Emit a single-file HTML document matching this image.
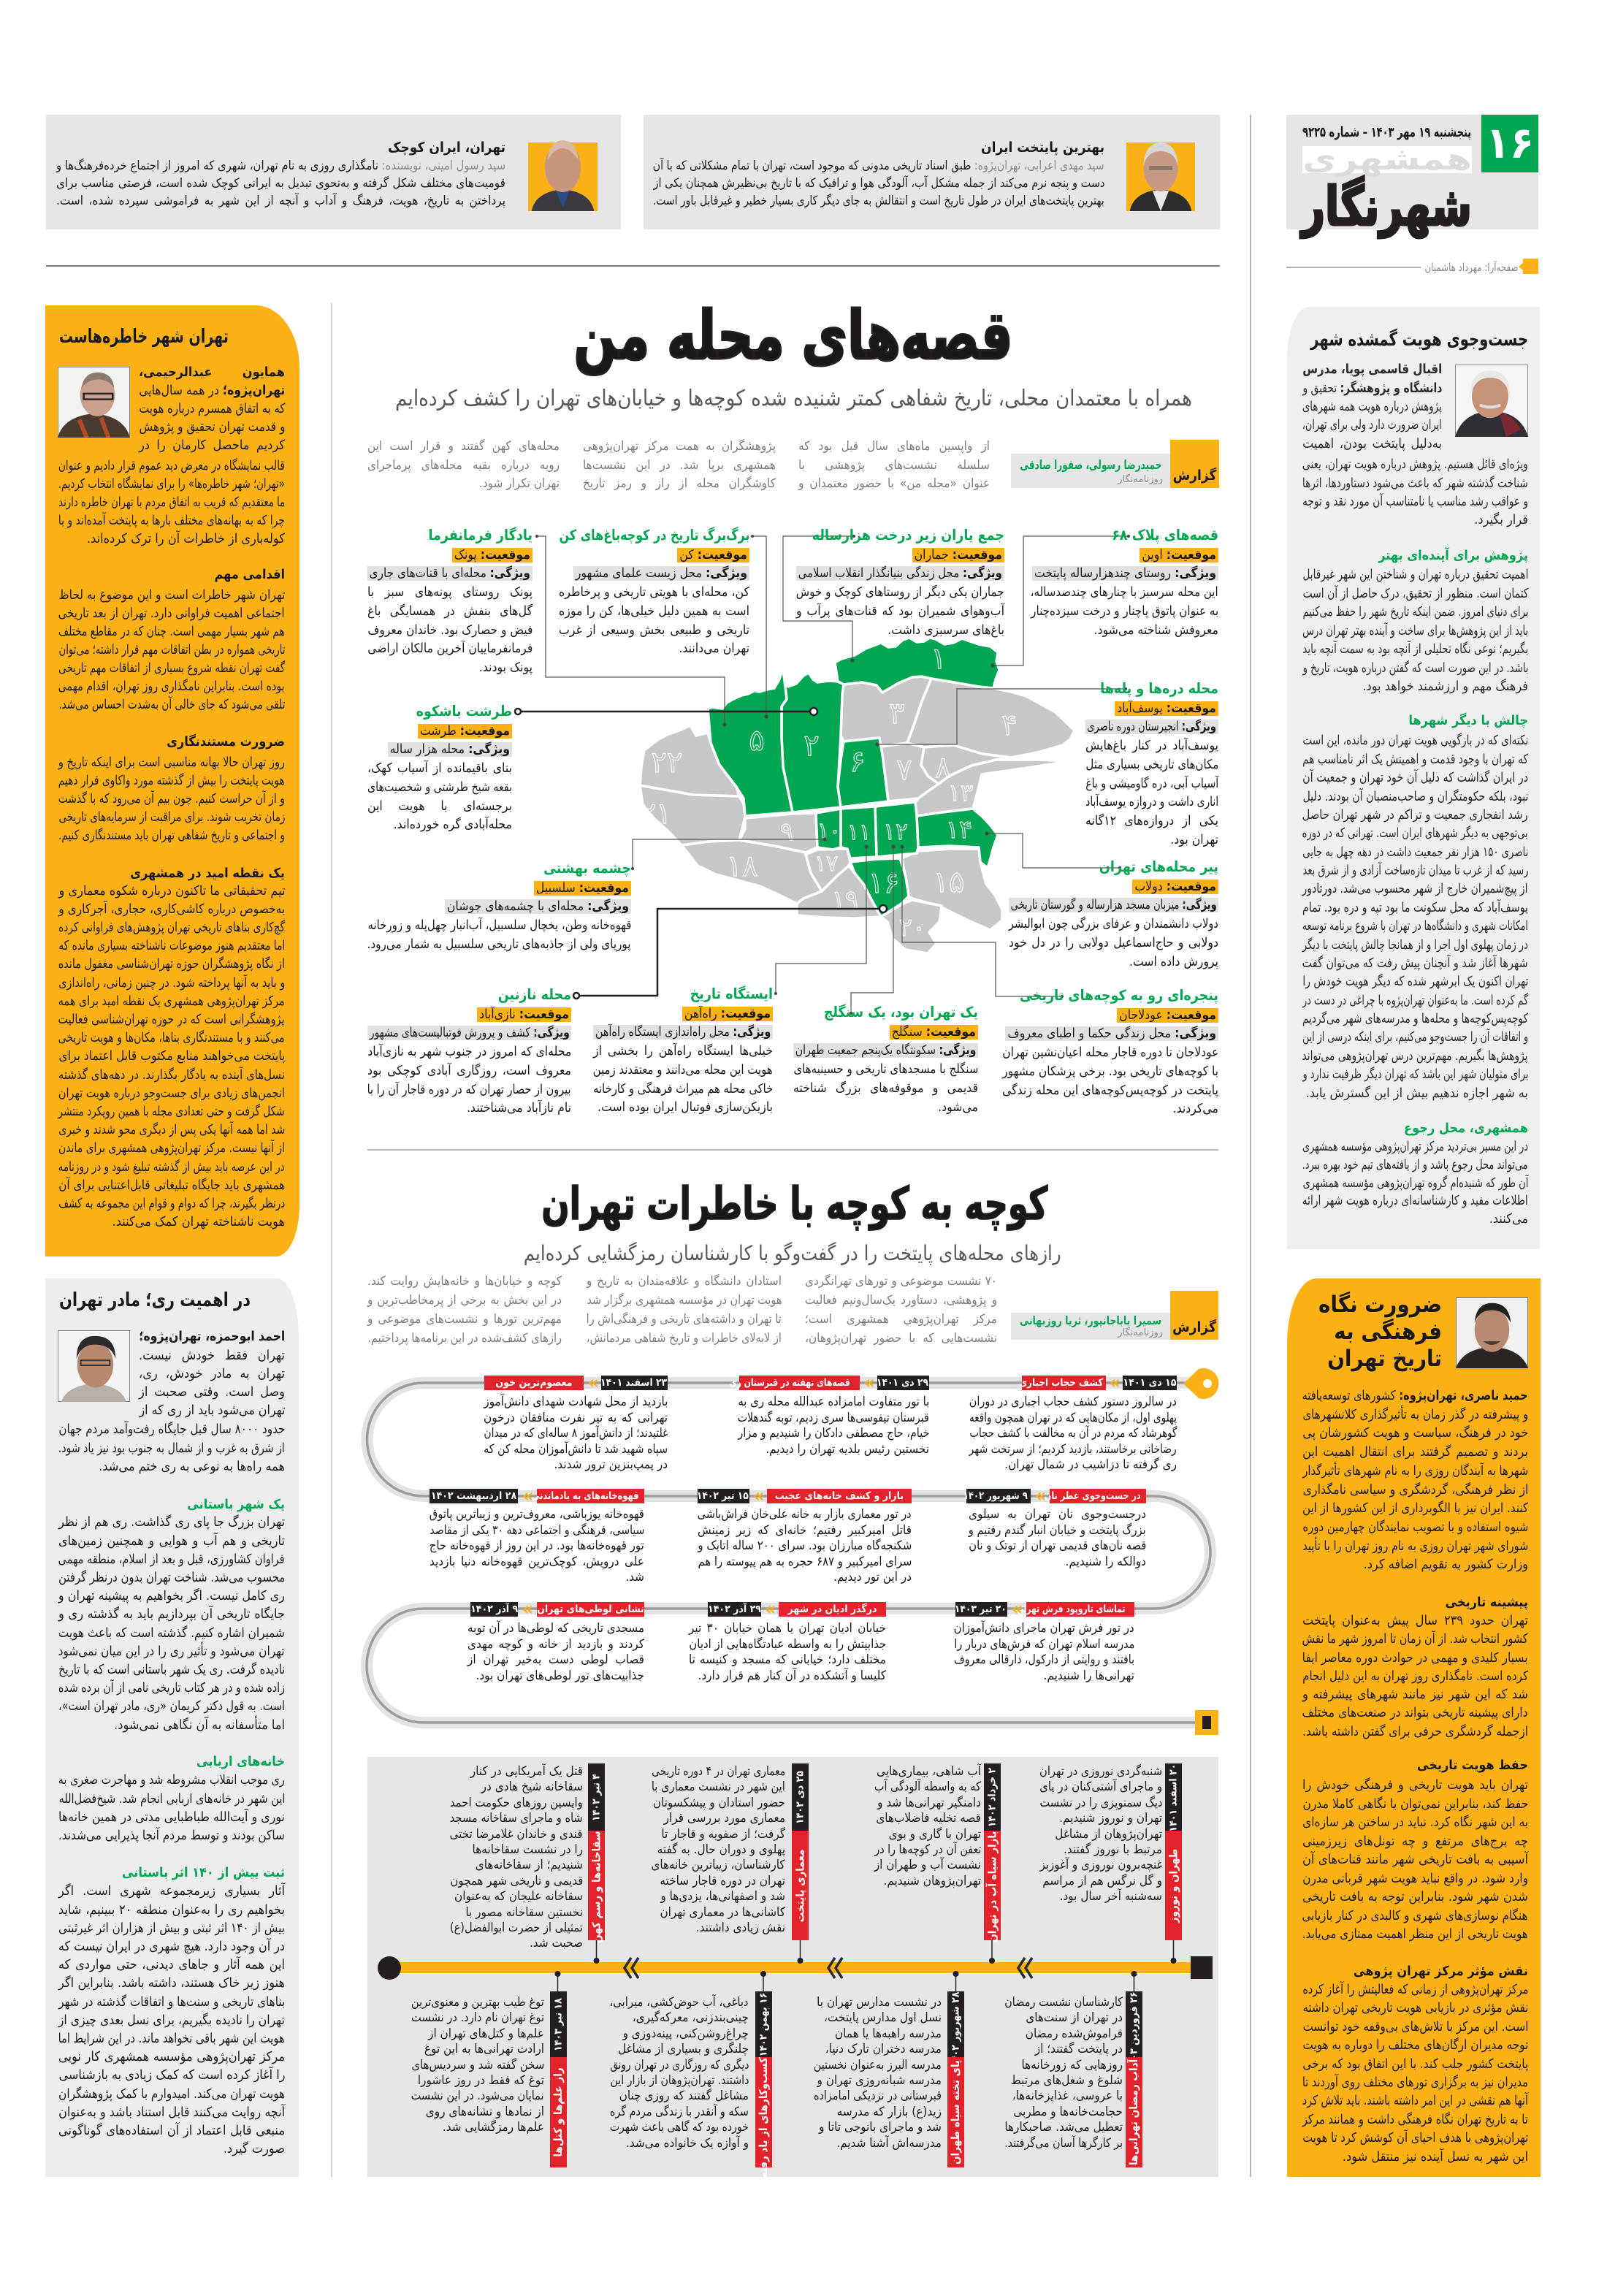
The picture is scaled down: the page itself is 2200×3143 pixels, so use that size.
<!DOCTYPE html>
<html lang="fa"><head><meta charset="utf-8">
<style>
*{box-sizing:border-box}
html,body{margin:0;padding:0}
body{width:2200px;height:3143px;position:relative;background:#fff;overflow:hidden;font-family:"DejaVu Sans Condensed","DejaVu Sans",sans-serif;color:#1a1718}
.a{position:absolute}
.b{position:absolute;direction:rtl}
.b p{margin:0;white-space:nowrap;text-align:right}
.w{display:inline-block;white-space:nowrap;transform-origin:100% 50%;vertical-align:top}
.fx{position:absolute;direction:rtl;white-space:nowrap;text-align:right}
.sd{white-space:nowrap;text-align:center;direction:rtl}
.sd .w{transform-origin:50% 50%}
.g{color:#00a651;font-weight:bold}
.gt{color:#00a651;font-weight:bold;font-size:19.5px}
.or{background:#fcb116;padding:0 3px}
.gy{background:#e1e1e2;padding:0 3px}
.t{font-weight:bold}
.tg{position:absolute;height:20px;line-height:20px;color:#fff;font-weight:bold;font-size:14px}
.rd{background:#e3232b}
.bk{background:#231f20}
.ch{position:absolute;color:#fcb116;font-weight:bold;font-size:26px;line-height:20px;height:20px;text-align:center;direction:ltr}
.vt{position:absolute;width:23px}
.vi{position:absolute;height:23px;line-height:23px;transform:rotate(-90deg);color:#fff;font-weight:bold;font-size:14px}
.m{font-size:17.5px;line-height:25.7px}
.tl{font-size:17px;line-height:21.5px}
.bt{font-size:17px;line-height:21.4px}
.gr{color:#7a7c7f}
.hv{-webkit-text-stroke:3px #231f20}
.hv2{-webkit-text-stroke:1.6px #231f20}
</style></head><body>

<svg class="a" style="left:0;top:0" width="2200" height="3143" viewBox="0 0 2200 3143">
<line x1="1712" y1="157" x2="1712" y2="2980" stroke="#b8b8b8" stroke-width="2"/>
<line x1="454" y1="415" x2="454" y2="2980" stroke="#c4c4c4" stroke-width="1.5"/>
<line x1="63" y1="364" x2="1670" y2="364" stroke="#7a7a7a" stroke-width="2"/>
<line x1="1761" y1="366" x2="1945" y2="366" stroke="#9a9a9a" stroke-width="1.5"/>
<rect x="2085" y="354" width="21" height="21" fill="#fcb116"/>
<polygon points="2079,365 2086,359 2086,371" fill="#fcb116"/>
<line x1="503" y1="1574" x2="1668" y2="1574" stroke="#a0a0a0" stroke-width="1.5"/>

<g stroke="#fff" stroke-width="3.5" stroke-linejoin="round">
<g fill="#c7c8ca">
<polygon points="1155,937 1180,934 1200,938 1208,948 1230,935 1249,927 1262,926 1275,929 1262,960 1252,990 1242,1017 1206,1022 1204,1010 1155,1015 1151,1007 1153,950"/>
<polygon points="1275,929 1300,933 1340,940 1360,942 1384,947 1405,953 1423,963 1445,975 1471,1000 1465,1012 1455,1020 1420,1030 1384,1037 1345,1032 1305,1020 1265,1023 1242,1017 1252,990 1262,960"/>
<polygon points="1206,1022 1242,1017 1265,1023 1261,1047 1270,1062 1285,1073 1268,1085 1257,1093 1216,1097 1212,1065 1208,1033"/>
<polygon points="1265,1023 1305,1020 1345,1032 1384,1037 1364,1040 1330,1048 1300,1062 1285,1073 1270,1062 1261,1047"/>
<polygon points="1285,1073 1300,1062 1330,1048 1364,1040 1420,1040 1465,1042 1400,1052 1344,1060 1338,1085 1332,1107 1290,1112 1255,1117 1253,1098 1257,1093 1268,1085"/>
<polygon points="1020,1120 1085,1114 1117,1113 1119,1160 1103,1167 1060,1158 1012,1150 1020,1135"/>
<polygon points="1103,1170 1119,1163 1160,1162 1164,1180 1162,1185 1145,1200 1125,1220 1110,1195"/>
<polygon points="933,1157 970,1152 1012,1150 1060,1158 1103,1167 1103,1170 1110,1195 1125,1220 1100,1230 1091,1237 1060,1222 1040,1213 1010,1205 980,1197 955,1185 945,1172"/>
<polygon points="1125,1220 1145,1200 1162,1185 1170,1195 1182,1210 1195,1235 1206,1255 1170,1257 1130,1256 1091,1253 1091,1237 1100,1230"/>
<polygon points="1234,1175 1257,1165 1300,1162 1340,1162 1342,1180 1350,1210 1362,1225 1372,1245 1372,1260 1356,1273 1330,1262 1305,1250 1285,1240 1249,1230 1244,1227 1240,1200"/>
<polygon points="1234,1238 1249,1232 1289,1240 1286,1262 1272,1276 1282,1292 1270,1305 1240,1300 1222,1285 1215,1262 1206,1255"/>
<polygon points="876,1075 949,1088 1012,1090 1018,1100 1020,1118 1012,1150 970,1152 933,1157 915,1138 895,1120 880,1102"/>
<polygon points="882,1027 900,1013 915,1005 930,1000 945,993 953,1007 969,1003 973,1017 985,1047 1008,1077 1012,1090 949,1088 876,1075 878,1050"/>
</g>
<g fill="#00a651">
<polygon points="1143,907 1152,902 1170,897 1185,888 1206,880 1216,886 1226,885 1236,876 1245,873 1255,879 1265,878 1273,873 1281,875 1293,882 1305,880 1317,874 1328,878 1340,882 1356,885 1366,893 1364,905 1368,917 1363,930 1360,942 1340,940 1300,933 1275,929 1262,926 1249,927 1230,935 1208,948 1200,938 1180,934 1155,937 1147,933 1145,920"/>
<polygon points="1072,915 1079,940 1090,936 1100,925 1107,921 1113,930 1119,934 1135,932 1147,933 1155,937 1153,950 1151,1007 1147,1077 1151,1105 1085,1112 1072,1050 1070,1010 1070,967 1077,957"/>
<polygon points="969,970 975,968 989,970 995,962 1004,957 1015,952 1024,950 1032,946 1040,947 1050,944 1060,942 1066,932 1072,915 1077,957 1070,967 1070,1010 1072,1050 1085,1112 1020,1117 1018,1093 1008,1077 985,1047 973,1017"/>
<polygon points="1155,1015 1204,1010 1208,1033 1212,1065 1216,1097 1151,1105 1147,1077 1151,1040"/>
<polygon points="1255,1117 1290,1112 1332,1107 1345,1118 1356,1130 1366,1143 1360,1160 1356,1175 1352,1188 1342,1180 1340,1160 1300,1158 1257,1160"/>
<polygon points="1198,1104 1253,1098 1255,1117 1257,1160 1255,1168 1200,1173"/>
<polygon points="1151,1107 1198,1104 1200,1173 1164,1175 1160,1162 1151,1160"/>
<polygon points="1117,1113 1151,1107 1151,1160 1140,1163 1119,1160"/>
<polygon points="1164,1180 1200,1176 1232,1175 1240,1200 1244,1227 1234,1237 1206,1255 1195,1235 1182,1210 1170,1195"/>
</g>
</g>
<g font-family="DejaVu Sans" font-size="40" fill="none" stroke="#fff" stroke-width="1.2" text-anchor="middle" opacity="0.9">
<text x="1285" y="915">۱</text><text x="1111" y="1034">۲</text><text x="1228" y="990">۳</text><text x="1382" y="1006">۴</text>
<text x="1036" y="1027">۵</text><text x="1174" y="1056">۶</text><text x="1238" y="1067">۷</text><text x="1291" y="1064">۸</text>
<text x="1077" y="1150" font-size="34">۹</text><text x="1135" y="1147" font-size="30">۱۰</text><text x="1176" y="1149" font-size="30">۱۱</text><text x="1226" y="1149" font-size="32">۱۲</text>
<text x="1315" y="1096" font-size="32">۱۳</text><text x="1313" y="1147" font-size="34">۱۴</text><text x="1299" y="1221">۱۵</text><text x="1210" y="1222">۱۶</text>
<text x="1131" y="1192" font-size="30">۱۷</text><text x="1016" y="1199">۱۸</text><text x="1157" y="1243" font-size="34">۱۹</text><text x="1249" y="1281" font-size="34">۲۰</text>
<text x="898" y="1127">۲۱</text><text x="913" y="1057">۲۲</text>
</g>
<g fill="none" stroke="#555" stroke-width="1.2">
<polyline points="1545,734 1401,734 1401,911 1359,911"/>
<polyline points="1169,734 1072,734 1072,850 1167,850 1167,904"/>
<polyline points="1030,734 1049,734 1049,981"/>
<polyline points="735,734 747,734 747,927 992,927 992,992"/>
<polyline points="866,1189 866,1149 1129,1149"/>
<polyline points="1541,943 1310,943 1310,1019 1201,1019"/>
<polyline points="1533,1188 1400,1188 1400,1141 1351,1141"/>
<polyline points="1454,1364 1363,1364 1363,1290 1235,1290 1235,1159"/>
<polyline points="1165,1387 1165,1359 1223,1359 1223,1159"/>
<polyline points="1062,1360 1062,1319 1186,1319 1186,1159"/>
</g>
<g fill="#444">
<circle cx="1359" cy="911" r="2.5"/><circle cx="1167" cy="904" r="2.5"/><circle cx="1049" cy="981" r="2.5"/><circle cx="992" cy="992" r="2.5"/>
<circle cx="1129" cy="1149" r="2.5"/><circle cx="1201" cy="1019" r="2.5"/><circle cx="1351" cy="1141" r="2.5"/><circle cx="1235" cy="1159" r="2.5"/>
<circle cx="1223" cy="1159" r="2.5"/><circle cx="1186" cy="1159" r="2.5"/>
<circle cx="1545" cy="734" r="2"/><circle cx="1169" cy="734" r="2"/><circle cx="1030" cy="734" r="2"/><circle cx="735" cy="734" r="2"/>
<circle cx="866" cy="1189" r="2"/><circle cx="1541" cy="943" r="2"/><circle cx="1533" cy="1188" r="2"/><circle cx="1454" cy="1364" r="2"/><circle cx="1165" cy="1387" r="2"/><circle cx="1062" cy="1360" r="2"/>
</g>
<g fill="none" stroke="#231f20" stroke-width="2.5">
<line x1="713" y1="974" x2="1110" y2="974"/>
<polyline points="793,1363 900,1363 900,1244 1205,1244"/>
</g>
<g fill="#fff" stroke="#231f20" stroke-width="2.5">
<circle cx="709" cy="974" r="4"/><circle cx="1114" cy="974" r="5"/><circle cx="789" cy="1363" r="4"/><circle cx="1209" cy="1244" r="5"/>
</g>

<path d="M1640 1893 H580 A77.5 77.5 0 0 0 580 2048 H1580 A77 77 0 0 1 1580 2202 H580 A78 78 0 0 0 580 2358 H1640" fill="none" stroke="#e3e3e3" stroke-width="16"/>
<path d="M1640 1893 H580 A77.5 77.5 0 0 0 580 2048 H1580 A77 77 0 0 1 1580 2202 H580 A78 78 0 0 0 580 2358 H1640" fill="none" stroke="#9c9c9c" stroke-width="3.5"/>
<path d="M1620 1894 L1641 1874 A21 21 0 1 1 1641 1914 Z" fill="#fcb116"/>
<circle cx="1653" cy="1894" r="6" fill="#fff"/>
<rect x="1636" y="2341" width="32" height="34" fill="#fcb116"/>
<rect x="1646" y="2349" width="12" height="18" fill="#231f20"/>

<rect x="503" y="2405" width="1165" height="575" fill="#e6e6e7"/>
<rect x="533" y="2686" width="1107" height="15" fill="#fcb116"/>
<ellipse cx="533" cy="2694" rx="16" ry="16" fill="#231f20"/>
<rect x="1630" y="2678" width="30" height="31" fill="#231f20"/>
<g fill="none" stroke="#2a2a2a" stroke-width="3.5" stroke-linejoin="miter">
<polyline points="864,2680 855,2694 864,2708"/><polyline points="874,2680 865,2694 874,2708"/>
<polyline points="1143,2680 1134,2694 1143,2708"/><polyline points="1153,2680 1144,2694 1153,2708"/>
<polyline points="1403,2680 1394,2694 1403,2708"/><polyline points="1413,2680 1404,2694 1413,2708"/>
</g>
<g stroke="#231f20" stroke-width="1.5">
<line x1="1606.5" y1="2656" x2="1606.5" y2="2684"/><line x1="1358" y1="2656" x2="1358" y2="2684"/><line x1="1095.5" y1="2656" x2="1095.5" y2="2684"/><line x1="816.5" y1="2656" x2="816.5" y2="2684"/>
<line x1="1552.5" y1="2702" x2="1552.5" y2="2726"/><line x1="1308.5" y1="2702" x2="1308.5" y2="2726"/><line x1="1045" y1="2702" x2="1045" y2="2726"/><line x1="763.5" y1="2702" x2="763.5" y2="2726"/>
</g>
<g fill="#231f20">
<circle cx="1606.5" cy="2684" r="4"/><circle cx="1358" cy="2684" r="4"/><circle cx="1095.5" cy="2684" r="4"/><circle cx="816.5" cy="2684" r="4"/>
<circle cx="1552.5" cy="2702" r="4"/><circle cx="1308.5" cy="2702" r="4"/><circle cx="1045" cy="2702" r="4"/><circle cx="763.5" cy="2702" r="4"/>
</g>
</svg>

<!-- HEADER -->
<div class="a" style="left:1761px;top:157px;width:345px;height:157px;background:#e6e6e7"></div>
<div class="a" style="left:1783px;top:200px;width:232px;height:37px;background:#fff"></div>
<div class="a" style="left:2028px;top:157px;width:78px;height:79px;background:#00a651;color:#fff;font-size:60px;font-weight:bold;text-align:center;line-height:79px;direction:rtl">۱۶</div>
<div class="fx" style="left:1783px;top:170px;width:231px;font-size:19px;line-height:22px;font-weight:bold">پنجشنبه ۱۹ مهر ۱۴۰۳ – شماره ۹۲۲۵</div>
<div class="fx" style="left:1783px;top:196px;width:232px;font-size:42px;line-height:44px;font-weight:bold;color:#dcdcdc">همشهری</div>
<div class="fx hv2" style="left:1782px;top:244px;width:233px;font-size:74px;line-height:78px;font-weight:bold;color:#231f20;-webkit-text-stroke:3px #231f20">شهرنگار</div>
<div class="fx" style="left:1950px;top:356px;width:128px;font-size:15px;line-height:20px;color:#888">صفحه‌آرا: مهرداد هاشمیان</div>

<div class="a" style="left:63px;top:157px;width:787px;height:157px;background:#e6e6e7"></div>
<div class="a" style="left:881px;top:157px;width:789px;height:157px;background:#e6e6e7"></div>
<svg class="a" style="left:1542px;top:189px" width="94" height="100" viewBox="0 0 100 100" preserveAspectRatio="none"><rect y="6" width="100" height="94" fill="#fcb116"/><path d="M5 100 Q10 74 50 70 Q90 74 95 100Z" fill="#2d2d2d"/><path d="M38 72 L50 100 L62 72Z" fill="#e9e9e9"/><ellipse cx="50" cy="42" rx="25" ry="31" fill="#c79a86"/><path d="M25 38 Q26 8 50 6 Q74 8 75 38 Q70 18 50 18 Q30 18 25 38Z" fill="#d6d6d6"/><rect x="33" y="38" width="34" height="6" fill="#555" opacity="0.5"/></svg>
<svg class="a" style="left:723px;top:189px" width="95" height="100" viewBox="0 0 100 100" preserveAspectRatio="none"><rect y="6" width="100" height="94" fill="#fcb116"/><path d="M5 100 Q10 74 50 70 Q90 74 95 100Z" fill="#3b3a40"/><path d="M40 72 L50 95 L60 72Z" fill="#2b4a8a"/><ellipse cx="50" cy="40" rx="26" ry="34" fill="#c8967c"/><path d="M28 30 Q30 4 50 3 Q70 4 72 30 Q62 14 50 14 Q38 14 28 30Z" fill="#d9b9a4"/></svg>
<div class="b" style="left:1300px;top:190px;width:212px;font-size:19px;line-height:24px"><p class="e t">بهترین پایتخت ایران</p></div>
<div class="b" style="left:894px;top:215px;width:618px;font-size:17px;line-height:24px">
<p><span style="color:#8a8a8a">سید مهدی اعرابی، تهران‌پژوه:</span> طبق اسناد تاریخی مدونی که موجود است، تهران با تمام مشکلاتی که با آن</p>
<p>دست و پنجه نرم می‌کند از جمله مشکل آب، آلودگی هوا و ترافیک که با تاریخ بی‌نظیرش همچنان یکی از</p>
<p>بهترین پایتخت‌های ایران در طول تاریخ است و انتقالش به جای دیگر کاری بسیار خطیر و غیرقابل باور است.</p>
</div>
<div class="b" style="left:480px;top:190px;width:212px;font-size:19px;line-height:24px"><p class="e t">تهران، ایران کوچک</p></div>
<div class="b" style="left:77px;top:215px;width:615px;font-size:17px;line-height:24px">
<p><span style="color:#8a8a8a">سید رسول امینی، نویسنده:</span> نامگذاری روزی به نام تهران، شهری که امروز از اجتماع خرده‌فرهنگ‌ها و</p>
<p>قومیت‌های مختلف شکل گرفته و به‌نحوی تبدیل به ایرانی کوچک شده است، فرصتی مناسب برای</p>
<p>پرداختن به تاریخ، هویت، فرهنگ و آداب و آنچه از این شهر به فراموشی سپرده شده، است.</p>
</div>

<!-- CENTER TOP -->
<div class="fx hv" style="left:785px;top:408px;width:601px;font-size:92px;line-height:104px;font-weight:bold">قصه‌های محله من</div>
<div class="fx" style="left:541px;top:527px;width:1091px;font-size:30px;line-height:38px;color:#58595b">همراه با معتمدان محلی، تاریخ شفاهی کمتر شنیده شده کوچه‌ها و خیابان‌های تهران را کشف کرده‌ایم</div>

<div class="a" style="left:1384px;top:621px;width:218px;height:47px;background:#e6e6e7"></div>
<div class="a" style="left:1602px;top:602px;width:67px;height:66px;background:#fcb116"></div>
<div class="a" style="left:1602px;top:637px;width:67px;height:28px;font-size:19px;line-height:28px;font-weight:bold;text-align:center;direction:rtl">گزارش</div>
<div class="fx" style="left:1396px;top:626px;width:194px;font-size:17px;line-height:22px;font-weight:bold;color:#00a651">حمیدرضا رسولی، صفورا صادقی</div>
<div class="fx" style="left:1530px;top:648px;width:62px;font-size:13px;line-height:17px;color:#8a8a8a">روزنامه‌نگار</div>

<div class="b gr" style="left:1093px;top:599px;width:262px;font-size:17px;line-height:25.5px">
<p>از واپسین ماه‌های سال قبل بود که</p>
<p>سلسله نشست‌های پژوهشی با</p>
<p>عنوان «محله من» با حضور معتمدان و</p>
</div>
<div class="b gr" style="left:798px;top:599px;width:264px;font-size:17px;line-height:25.5px">
<p>پژوهشگران به همت مرکز تهران‌پژوهی</p>
<p>همشهری برپا شد. در این نشست‌ها</p>
<p>کاوشگران محله از راز و رمز تاریخ</p>
</div>
<div class="b gr" style="left:503px;top:599px;width:263px;font-size:17px;line-height:25.5px">
<p>محله‌های کهن گفتند و قرار است این</p>
<p>رویه درباره بقیه محله‌های پرماجرای</p>
<p class="e">تهران تکرار شود.</p>
</div>

<!-- map annotations -->
<div class="b m" style="left:1411px;top:720px;width:257px">
<p class="e"><span class="gt">قصه‌های پلاک ۶۸</span></p>
<p class="e"><span class="or"><b>موقعیت:</b> اوین</span></p>
<p class="e"><span class="gy"><b>ویژگی:</b> روستای چندهزارساله پایتخت</span></p>
<p>این محله سرسبز با چنارهای چندصدساله،</p>
<p>به عنوان پاتوق پاچنار و درخت سیزده‌چنار</p>
<p class="e">معروفش شناخته می‌شود.</p>
</div>
<div class="b m" style="left:1090px;top:720px;width:285px">
<p class="e"><span class="gt">جمع یاران زیر درخت هزارساله</span></p>
<p class="e"><span class="or"><b>موقعیت:</b> جماران</span></p>
<p class="e"><span class="gy"><b>ویژگی:</b> محل زندگی بنیانگذار انقلاب اسلامی</span></p>
<p>جماران یکی دیگر از روستاهای کوچک و خوش</p>
<p>آب‌وهوای شمیران بود که قنات‌های پرآب و</p>
<p class="e">باغ‌های سرسبزی داشت.</p>
</div>
<div class="b m" style="left:765px;top:720px;width:261px">
<p class="e"><span class="gt">برگ‌برگ تاریخ در کوچه‌باغ‌های کن</span></p>
<p class="e"><span class="or"><b>موقعیت:</b> کن</span></p>
<p class="e"><span class="gy"><b>ویژگی:</b> محل زیست علمای مشهور</span></p>
<p>کن، محله‌ای با هویتی تاریخی و پرخاطره</p>
<p>است به همین دلیل خیلی‌ها، کن را موزه</p>
<p>تاریخی و طبیعی بخش وسیعی از غرب</p>
<p class="e">تهران می‌دانند.</p>
</div>
<div class="b m" style="left:503px;top:720px;width:226px">
<p class="e"><span class="gt">یادگار فرمانفرما</span></p>
<p class="e"><span class="or"><b>موقعیت:</b> پونک</span></p>
<p class="e"><span class="gy"><b>ویژگی:</b> محله‌ای با قنات‌های جاری</span></p>
<p>پونک روستای پونه‌های سبز با</p>
<p>گل‌های بنفش در همسایگی باغ</p>
<p>فیض و حصارک بود. خاندان معروف</p>
<p>فرمانفرماییان آخرین مالکان اراضی</p>
<p class="e">پونک بودند.</p>
</div>
<div class="b m" style="left:503px;top:961px;width:198px">
<p class="e"><span class="gt">طرشت باشکوه</span></p>
<p class="e"><span class="or"><b>موقعیت:</b> طرشت</span></p>
<p class="e"><span class="gy"><b>ویژگی:</b> محله هزار ساله</span></p>
<p>بنای باقیمانده از آسیاب کهک،</p>
<p>بقعه شیخ طرشتی و شخصیت‌های</p>
<p>برجسته‌ای با هویت این</p>
<p class="e">محله‌آبادی گره خورده‌اند.</p>
</div>
<div class="b m" style="left:503px;top:1176px;width:361px">
<p class="e"><span class="gt">چشمه بهشتی</span></p>
<p class="e"><span class="or"><b>موقعیت:</b> سلسبیل</span></p>
<p class="e"><span class="gy"><b>ویژگی:</b> محله‌ای با چشمه‌های جوشان</span></p>
<p>قهوه‌خانه وطن، یخچال سلسبیل، آب‌انبار چهل‌پله و زورخانه</p>
<p class="e">پوریای ولی از جاذبه‌های تاریخی سلسبیل به شمار می‌رود.</p>
</div>
<div class="b m" style="left:1486px;top:930px;width:182px">
<p class="e"><span class="gt">محله دره‌ها و پله‌ها</span></p>
<p class="e"><span class="or"><b>موقعیت:</b> یوسف‌آباد</span></p>
<p class="e"><span class="gy"><b>ویژگی:</b> انجیرستان دوره ناصری</span></p>
<p>یوسف‌آباد در کنار باغ‌هایش</p>
<p>مکان‌های تاریخی بسیاری مثل</p>
<p>آسیاب آبی، دره گاومیشی و باغ</p>
<p>اناری داشت و دروازه یوسف‌آباد</p>
<p>یکی از دروازه‌های ۱۲گانه</p>
<p class="e">تهران بود.</p>
</div>
<div class="b m" style="left:1381px;top:1174px;width:287px">
<p class="e"><span class="gt">پیر محله‌های تهران</span></p>
<p class="e"><span class="or"><b>موقعیت:</b> دولاب</span></p>
<p class="e"><span class="gy"><b>ویژگی:</b> میزبان مسجد هزارساله و گورستان تاریخی</span></p>
<p>دولاب دانشمندان و عرفای بزرگی چون ابوالبشر</p>
<p>دولابی و حاج‌اسماعیل دولابی را در دل خود</p>
<p class="e">پرورش داده است.</p>
</div>
<div class="b m" style="left:1372px;top:1350px;width:296px">
<p class="e"><span class="gt">پنجره‌ای رو به کوچه‌های تاریخی</span></p>
<p class="e"><span class="or"><b>موقعیت:</b> عودلاجان</span></p>
<p class="e"><span class="gy"><b>ویژگی:</b> محل زندگی حکما و اطبای معروف</span></p>
<p>عودلاجان تا دوره قاجار محله اعیان‌نشین تهران</p>
<p>با کوچه‌های تاریخی بود. برخی پزشکان مشهور</p>
<p>پایتخت در کوچه‌پس‌کوچه‌های این محله زندگی</p>
<p class="e">می‌کردند.</p>
</div>
<div class="b m" style="left:1086px;top:1373px;width:253px">
<p class="e"><span class="gt">یک تهران بود، یک سنگلج</span></p>
<p class="e"><span class="or"><b>موقعیت:</b> سنگلج</span></p>
<p class="e"><span class="gy"><b>ویژگی:</b> سکونتگاه یک‌پنجم جمعیت طهران</span></p>
<p>سنگلج با مسجدهای تاریخی و حسینیه‌های</p>
<p>قدیمی و موقوفه‌های بزرگ شناخته</p>
<p class="e">می‌شود.</p>
</div>
<div class="b m" style="left:812px;top:1348px;width:246px">
<p class="e"><span class="gt">ایستگاه تاریخ</span></p>
<p class="e"><span class="or"><b>موقعیت:</b> راه‌آهن</span></p>
<p class="e"><span class="gy"><b>ویژگی:</b> محل راه‌اندازی ایستگاه راه‌آهن</span></p>
<p>خیلی‌ها ایستگاه راه‌آهن را بخشی از</p>
<p>هویت این محله می‌دانند و معتقدند زمین</p>
<p>خاکی محله هم میراث فرهنگی و کارخانه</p>
<p class="e">بازیکن‌سازی فوتبال ایران بوده است.</p>
</div>
<div class="b m" style="left:503px;top:1349px;width:279px">
<p class="e"><span class="gt">محله نازنین</span></p>
<p class="e"><span class="or"><b>موقعیت:</b> نازی‌آباد</span></p>
<p class="e"><span class="gy"><b>ویژگی:</b> کشف و پرورش فوتبالیست‌های مشهور</span></p>
<p>محله‌ای که امروز در جنوب شهر به نازی‌آباد</p>
<p>معروف است، روزگاری آبادی کوچکی بود</p>
<p>بیرون از حصار تهران که در دوره قاجار آن را با</p>
<p class="e">نام نازآباد می‌شناختند.</p>
</div>

<!-- SECOND STORY -->
<div class="fx hv2" style="left:741px;top:1612px;width:693px;font-size:62px;line-height:72px;font-weight:bold">کوچه به کوچه با خاطرات تهران</div>
<div class="fx" style="left:717px;top:1698px;width:736px;font-size:28px;line-height:36px;color:#58595b">رازهای محله‌های پایتخت را در گفت‌وگو با کارشناسان رمزگشایی کرده‌ایم</div>

<div class="a" style="left:1384px;top:1797px;width:218px;height:37px;background:#e6e6e7"></div>
<div class="a" style="left:1602px;top:1767px;width:66px;height:67px;background:#fcb116"></div>
<div class="a" style="left:1602px;top:1803px;width:66px;height:28px;font-size:19px;line-height:28px;font-weight:bold;text-align:center;direction:rtl">گزارش</div>
<div class="fx" style="left:1396px;top:1798px;width:194px;font-size:16px;line-height:20px;font-weight:bold;color:#00a651">سمیرا باباجانپور، ثریا روزبهانی</div>
<div class="fx" style="left:1530px;top:1817px;width:62px;font-size:13px;line-height:16px;color:#8a8a8a">روزنامه‌نگار</div>

<div class="b gr" style="left:1102px;top:1742px;width:263px;font-size:17px;line-height:25.9px">
<p>۷۰ نشست موضوعی و تورهای تهرانگردی</p>
<p>و پژوهشی، دستاورد یک‌سال‌ونیم فعالیت</p>
<p>مرکز تهران‌پژوهی همشهری است؛</p>
<p>نشست‌هایی که با حضور تهران‌پژوهان،</p>
</div>
<div class="b gr" style="left:803px;top:1742px;width:267px;font-size:17px;line-height:25.9px">
<p>استادان دانشگاه و علاقه‌مندان به تاریخ و</p>
<p>هویت تهران در مؤسسه همشهری برگزار شد</p>
<p>تا تهران و داشته‌های تاریخی و فرهنگی‌اش را</p>
<p>از لابه‌لای خاطرات و تاریخ شفاهی مردمانش،</p>
</div>
<div class="b gr" style="left:503px;top:1742px;width:266px;font-size:17px;line-height:25.9px">
<p>کوچه و خیابان‌ها و خانه‌هایش روایت کند.</p>
<p>در این بخش به برخی از پرمخاطب‌ترین و</p>
<p>مهم‌ترین تورها و نشست‌های موضوعی و</p>
<p class="e">رازهای کشف‌شده در این برنامه‌ها پرداختیم.</p>
</div>

<!-- timeline tags -->
<div class="tg bk sd" style="left:1537px;top:1883px;width:74px">۱۵ دی ۱۴۰۱</div>
<div class="ch" style="left:1516px;top:1883px;width:20px">«</div>
<div class="tg rd sd" style="left:1399px;top:1883px;width:115px">کشف حجاب اجباری</div>
<div class="tg bk sd" style="left:1201px;top:1883px;width:71px">۲۹ دی ۱۴۰۱</div>
<div class="ch" style="left:1180px;top:1883px;width:20px">«</div>
<div class="tg rd sd" style="left:1012px;top:1883px;width:165px">قصه‌های نهفته در قبرستان ری</div>
<div class="tg bk sd" style="left:823px;top:1883px;width:91px">۲۳ اسفند ۱۴۰۱</div>
<div class="ch" style="left:802px;top:1883px;width:20px">«</div>
<div class="tg rd sd" style="left:663px;top:1883px;width:136px">معصوم‌ترین خون</div>

<div class="tg rd sd" style="left:1437px;top:2038px;width:132px">در جست‌وجوی عطر نان</div>
<div class="ch" style="left:1414px;top:2038px;width:21px">«</div>
<div class="tg bk sd" style="left:1323px;top:2038px;width:88px">۹ شهریور ۱۴۰۲</div>
<div class="tg rd sd" style="left:1050px;top:2038px;width:198px">بازار و کشف خانه‌های عجیب</div>
<div class="ch" style="left:1028px;top:2038px;width:21px">«</div>
<div class="tg bk sd" style="left:955px;top:2038px;width:71px">۱۵ تیر ۱۴۰۲</div>
<div class="tg rd sd" style="left:735px;top:2038px;width:147px">قهوه‌خانه‌های به یادماندنی</div>
<div class="ch" style="left:712px;top:2038px;width:21px">«</div>
<div class="tg bk sd" style="left:588px;top:2038px;width:121px">۲۸ اردیبهشت ۱۴۰۲</div>

<div class="tg rd sd" style="left:1405px;top:2193px;width:148px">تماشای تاروپود فرش تهران</div>
<div class="ch" style="left:1382px;top:2193px;width:21px">«</div>
<div class="tg bk sd" style="left:1308px;top:2193px;width:71px">۲۰ تیر ۱۴۰۳</div>
<div class="tg rd sd" style="left:1066px;top:2193px;width:147px">درگذر ادیان در شهر</div>
<div class="ch" style="left:1044px;top:2193px;width:21px">«</div>
<div class="tg bk sd" style="left:969px;top:2193px;width:73px">۲۹ آذر ۱۴۰۲</div>
<div class="tg rd sd" style="left:735px;top:2193px;width:147px">نشانی لوطی‌های تهران</div>
<div class="ch" style="left:712px;top:2193px;width:21px">«</div>
<div class="tg bk sd" style="left:644px;top:2193px;width:65px">۹ آذر ۱۴۰۲</div>

<div class="b tl" style="left:1327px;top:1909px;width:284px">
<p>در سالروز دستور کشف حجاب اجباری در دوران</p>
<p>پهلوی اول، از مکان‌هایی که در تهران همچون واقعه</p>
<p>گوهرشاد که مردم در آن به مخالفت با کشف حجاب</p>
<p>رضاخانی برخاستند، بازدید کردیم؛ از سرتخت شهر</p>
<p class="e">ری گرفته تا دزاشیب در شمال تهران.</p>
</div>
<div class="b tl" style="left:1010px;top:1909px;width:262px">
<p>با تور متفاوت امامزاده عبدالله محله ری به</p>
<p>قبرستان تیفوسی‌ها سری زدیم، توبه گندهلات</p>
<p>خیام، حاج مصطفی دادکان را شنیدیم و مزار</p>
<p class="e">نخستین رئیس بلدیه تهران را دیدیم.</p>
</div>
<div class="b tl" style="left:662px;top:1909px;width:252px">
<p>بازدید از محل شهادت شهدای دانش‌آموز</p>
<p>تهرانی که به تیر نفرت منافقان درخون</p>
<p>غلتیدند؛ از دانش‌آموز ۸ ساله‌ای که در میدان</p>
<p>سپاه شهید شد تا دانش‌آموزان محله کن که</p>
<p class="e">در پمپ‌بنزین ترور شدند.</p>
</div>
<div class="b tl" style="left:1326px;top:2063px;width:243px">
<p>درجست‌وجوی نان تهران به سیلوی</p>
<p>بزرگ پایتخت و خیابان انبار گندم رفتیم و</p>
<p>قصه نان‌های قدیمی تهران از توتک و نان</p>
<p class="e">دوالکه را شنیدیم.</p>
</div>
<div class="b tl" style="left:955px;top:2063px;width:293px">
<p>در تور معماری بازار به خانه علی‌خان فراش‌باشی</p>
<p>قاتل امیرکبیر رفتیم؛ خانه‌ای که زیر زمینش</p>
<p>شکنجه‌گاه مبارزان بود. سرای ۲۰۰ ساله اتابک و</p>
<p>سرای امیرکبیر و ۶۸۷ حجره به هم پیوسته را هم</p>
<p class="e">در این تور دیدیم.</p>
</div>
<div class="b tl" style="left:588px;top:2063px;width:294px">
<p>قهوه‌خانه یوزباشی، معروف‌ترین و زیباترین پاتوق</p>
<p>سیاسی، فرهنگی و اجتماعی دهه ۳۰ یکی از مقاصد</p>
<p>تور قهوه‌خانه‌ها بود. در این روز از قهوه‌خانه حاج</p>
<p>علی درویش، کوچک‌ترین قهوه‌خانه دنیا بازدید</p>
<p class="e">شد.</p>
</div>
<div class="b tl" style="left:1306px;top:2219px;width:247px">
<p>در تور فرش تهران ماجرای دانش‌آموزان</p>
<p>مدرسه اسلام تهران که فرش‌های دربار را</p>
<p>بافتند و روایتی از دارکول، دارقالی معروف</p>
<p class="e">تهرانی‌ها را شنیدیم.</p>
</div>
<div class="b tl" style="left:943px;top:2219px;width:270px">
<p>خیابان ادیان تهران یا همان خیابان ۳۰ تیر</p>
<p>جذابیتش را به واسطه عبادتگاه‌هایی از ادیان</p>
<p>مختلف دارد؛ خیابانی که مسجد و کنیسه تا</p>
<p class="e">کلیسا و آتشکده در آن کنار هم قرار دارد.</p>
</div>
<div class="b tl" style="left:640px;top:2219px;width:242px">
<p>مسجدی تاریخی که لوطی‌ها در آن توبه</p>
<p>کردند و بازدید از خانه و کوچه مهدی</p>
<p>قصاب لوطی دست به‌خیر تهران از</p>
<p class="e">جذابیت‌های تور لوطی‌های تهران بود.</p>
</div>

<!-- bottom panel vertical tags -->
<div class="vt bk" style="left:1595px;top:2414px;height:92px"><div class="vi sd" style="width:92px;left:-34.5px;top:34.5px">۲۰ اسفند ۱۴۰۱</div></div>
<div class="vt rd" style="left:1595px;top:2506px;height:150px"><div class="vi sd" style="width:150px;left:-63.5px;top:63.5px;font-size:15px">طهران و نوروز</div></div>
<div class="vt bk" style="left:1347px;top:2414px;height:92px"><div class="vi sd" style="width:92px;left:-34.5px;top:34.5px">۲ خرداد ۱۴۰۲</div></div>
<div class="vt rd" style="left:1347px;top:2506px;height:150px"><div class="vi sd" style="width:150px;left:-63.5px;top:63.5px;font-size:15px">بازار سیاه آب در تهران</div></div>
<div class="vt bk" style="left:1084px;top:2414px;height:92px"><div class="vi sd" style="width:92px;left:-34.5px;top:34.5px">۲۵ دی ۱۴۰۲</div></div>
<div class="vt rd" style="left:1084px;top:2506px;height:150px"><div class="vi sd" style="width:150px;left:-63.5px;top:63.5px;font-size:15px">معماری پایتخت</div></div>
<div class="vt bk" style="left:805px;top:2414px;height:92px"><div class="vi sd" style="width:92px;left:-34.5px;top:34.5px">۴ تیر ۱۴۰۲</div></div>
<div class="vt rd" style="left:805px;top:2506px;height:150px"><div class="vi sd" style="width:150px;left:-63.5px;top:63.5px;font-size:15px">سقاخانه‌ها و رسم کهن</div></div>

<div class="vt bk" style="left:1541px;top:2726px;height:90px"><div class="vi sd" style="width:90px;left:-33.5px;top:33.5px">۲۶ فروردین ۱۴۰۳</div></div>
<div class="vt rd" style="left:1541px;top:2816px;height:151px"><div class="vi sd" style="width:151px;left:-64px;top:64px;font-size:15px">آداب رمضان تهرانی‌ها</div></div>
<div class="vt bk" style="left:1297px;top:2726px;height:90px"><div class="vi sd" style="width:90px;left:-33.5px;top:33.5px">۲۸ شهریور ۱۴۰۲</div></div>
<div class="vt rd" style="left:1297px;top:2816px;height:151px"><div class="vi sd" style="width:151px;left:-64px;top:64px;font-size:15px">پای تخته سیاه طهران</div></div>
<div class="vt bk" style="left:1034px;top:2726px;height:90px"><div class="vi sd" style="width:90px;left:-33.5px;top:33.5px">۱۶ بهمن ۱۴۰۲</div></div>
<div class="vt rd" style="left:1034px;top:2816px;height:151px"><div class="vi sd" style="width:151px;left:-64px;top:64px;font-size:15px">کسب‌وکارهای از یاد رفته</div></div>
<div class="vt bk" style="left:753px;top:2726px;height:90px"><div class="vi sd" style="width:90px;left:-33.5px;top:33.5px">۱۸ تیر ۱۴۰۳</div></div>
<div class="vt rd" style="left:753px;top:2816px;height:151px"><div class="vi sd" style="width:151px;left:-64px;top:64px;font-size:15px">راز علم‌ها و کتل‌ها</div></div>

<div class="b bt nj" style="left:1423px;top:2415px;width:168px">
<p>شنبه‌گردی نوروزی در تهران</p><p>و ماجرای آشتی‌کنان در پای</p><p>دیگ سمنوپزی را در نشست</p><p>تهران و نوروز شنیدیم.</p><p>تهران‌پژوهان از مشاغل</p><p>مرتبط با نوروز گفتند.</p><p>غنچه‌برون نوروزی و آغوزبز</p><p>و گل نرگس هم از مراسم</p><p>سه‌شنبه آخر سال بود.</p>
</div>
<div class="b bt nj" style="left:1197px;top:2415px;width:146px">
<p>آب شاهی، بیماری‌هایی</p><p>که به واسطه آلودگی آب</p><p>دامنگیر تهرانی‌ها شد و</p><p>قصه تخلیه فاضلاب‌های</p><p>تهران با گاری و بوی</p><p>تعفن آن در کوچه‌ها را در</p><p>نشست آب و طهران از</p><p>تهران‌پژوهان شنیدیم.</p>
</div>
<div class="b bt nj" style="left:892px;top:2415px;width:183px">
<p>معماری تهران در ۴ دوره تاریخی</p><p>این شهر در نشست معماری با</p><p>حضور استادان و پیشکسوتان</p><p>معماری مورد بررسی قرار</p><p>گرفت؛ از صفویه و قاجار تا</p><p>پهلوی و دوران حال. به گفته</p><p>کارشناسان، زیباترین خانه‌های</p><p>تهران در دوره قاجار ساخته</p><p>شد و اصفهانی‌ها، یزدی‌ها و</p><p>کاشانی‌ها در معماری تهران</p><p>نقش زیادی داشتند.</p>
</div>
<div class="b bt nj" style="left:616px;top:2415px;width:182px">
<p>قتل یک آمریکایی در کنار</p><p>سقاخانه شیخ هادی در</p><p>واپسین روزهای حکومت احمد</p><p>شاه و ماجرای سقاخانه مسجد</p><p>قندی و خاندان غلامرضا تختی</p><p>را در نشست سقاخانه‌ها</p><p>شنیدیم؛ از سقاخانه‌های</p><p>قدیمی و تاریخی شهر همچون</p><p>سقاخانه علیجان که به‌عنوان</p><p>نخستین سقاخانه مصور با</p><p>تمثیلی از حضرت ابوالفضل(ع)</p><p>صحبت شد.</p>
</div>
<div class="b bt nj" style="left:1375px;top:2731px;width:162px">
<p>کارشناسان نشست رمضان</p><p>در تهران از سنت‌های</p><p>فراموش‌شده رمضان</p><p>در پایتخت گفتند؛ از</p><p>روزهایی که زورخانه‌ها</p><p>شلوغ و شغل‌های مرتبط</p><p>با عروسی، غذاپزخانه‌ها،</p><p>حجامت‌خانه‌ها و مطربی</p><p>تعطیل می‌شد. صاحبکارها</p><p>بر کارگرها آسان می‌گرفتند.</p>
</div>
<div class="b bt nj" style="left:1114px;top:2731px;width:175px">
<p>در نشست مدارس تهران با</p><p>نسل اول مدارس پایتخت،</p><p>مدرسه راهبه‌ها یا همان</p><p>مدرسه دختران تارک دنیا،</p><p>مدرسه البرز به‌عنوان نخستین</p><p>مدرسه شبانه‌روزی تهران و</p><p>قبرستانی در نزدیکی امامزاده</p><p>زید(ع) بازار که مدرسه</p><p>شد و ماجرای بانوجی تاتا و</p><p>مدرسه‌اش آشنا شدیم.</p>
</div>
<div class="b bt nj" style="left:835px;top:2731px;width:190px">
<p>دباغی، آب حوض‌کشی، میرابی،</p><p>چینی‌بندزنی، معرکه‌گیری،</p><p>چراغ‌روشن‌کنی، پینه‌دوزی و</p><p>چلنگری و بسیاری از مشاغل</p><p>دیگری که روزگاری در تهران رونق</p><p>داشتند. تهران‌پژوهان از بازار این</p><p>مشاغل گفتند که روزی چنان</p><p>سکه و آنقدر با زندگی مردم گره</p><p>خورده بود که گاهی باعث شهرت</p><p>و آوازه یک خانواده می‌شد.</p>
</div>
<div class="b bt nj" style="left:563px;top:2731px;width:182px">
<p>توغ طیب بهترین و معنوی‌ترین</p><p>توغ تهران نام دارد. در نشست</p><p>علم‌ها و کتل‌های تهران از</p><p>ارادت تهرانی‌ها به این توغ</p><p>سخن گفته شد و سردیس‌های</p><p>توغ که فقط در روز عاشورا</p><p>نمایان می‌شود. در این نشست</p><p>از نمادها و نشانه‌های روی</p><p>علم‌ها رمزگشایی شد.</p>
</div>

<!-- LEFT COLUMN -->
<div class="a" style="left:62px;top:418px;width:348px;height:1302px;background:#fcb116;border-top-right-radius:60px 85px;border-bottom-right-radius:32px 70px"></div>
<div class="fx" style="left:81px;top:446px;width:232px;font-size:26px;line-height:30px;font-weight:bold">تهران شهر خاطره‌هاست</div>
<svg class="a" style="left:79px;top:502px" width="99" height="97" viewBox="0 0 100 100" preserveAspectRatio="none"><rect width="100" height="100" fill="#f2f2f2" stroke="#888" stroke-width="2"/><path d="M0 100 Q8 70 50 66 Q92 70 100 100Z" fill="#4a3b30"/><path d="M30 75 L40 100 M60 72 L70 100" stroke="#b24a2a" stroke-width="6"/><ellipse cx="55" cy="40" rx="24" ry="30" fill="#c9a08e"/><path d="M33 30 Q36 8 56 8 Q76 9 78 30 Q70 18 56 18 Q42 18 33 30Z" fill="#8a7a70"/><rect x="36" y="38" width="40" height="8" fill="none" stroke="#222" stroke-width="2.5"/></svg>
<div class="b" style="left:190px;top:496.5px;width:200px;font-size:18px;line-height:25px">
<p><b>همایون عبدالرحیمی،</b></p>
<p><b>تهران‌پژوه؛</b> در همه سال‌هایی</p>
<p>که به اتفاق همسرم درباره هویت</p>
<p>و قدمت تهران تحقیق و پژوهش</p>
<p>کردیم ماحصل کارمان را در</p>
</div>
<div class="b" style="left:80px;top:624.5px;width:310px;font-size:18px;line-height:25px">
<p>قالب نمایشگاه در معرض دید عموم قرار دادیم و عنوان</p>
<p>«تهران؛ شهر خاطره‌ها» را برای نمایشگاه انتخاب کردیم.</p>
<p>ما معتقدیم که قریب به اتفاق مردم با تهران خاطره دارند</p>
<p>چرا که به بهانه‌های مختلف بارها به پایتخت آمده‌اند و با</p>
<p class="e">کوله‌باری از خاطرات آن را ترک کرده‌اند.</p>
</div>
<div class="b" style="left:80px;top:773.5px;width:310px;font-size:18px;line-height:25px"><p class="e t">اقدامی مهم</p></div>
<div class="b" style="left:80px;top:801.5px;width:310px;font-size:18px;line-height:25.1px">
<p>تهران شهر خاطرات است و این موضوع به لحاظ</p>
<p>اجتماعی اهمیت فراوانی دارد. تهران از بعد تاریخی</p>
<p>هم شهر بسیار مهمی است. چنان که در مقاطع مختلف</p>
<p>تاریخی همواره در بطن اتفاقات مهم قرار داشته؛ می‌توان</p>
<p>گفت تهران نقطه شروع بسیاری از اتفاقات مهم تاریخی</p>
<p>بوده است. بنابراین نامگذاری روز تهران، اقدام مهمی</p>
<p class="e">تلقی می‌شود که جای خالی آن به‌شدت احساس می‌شد.</p>
</div>
<div class="b" style="left:80px;top:1002.5px;width:310px;font-size:18px;line-height:25px"><p class="e t">ضرورت مستندنگاری</p></div>
<div class="b" style="left:80px;top:1030.5px;width:310px;font-size:18px;line-height:25px">
<p>روز تهران حالا بهانه مناسبی است برای اینکه تاریخ و</p>
<p>هویت پایتخت را بیش از گذشته مورد واکاوی قرار دهیم</p>
<p>و از آن حراست کنیم. چون بیم آن می‌رود که با گذشت</p>
<p>زمان تخریب شوند. برای مراقبت از سرمایه‌های تاریخی</p>
<p class="e">و اجتماعی و تاریخ شفاهی تهران باید مستندنگاری کنیم.</p>
</div>
<div class="b" style="left:80px;top:1182.5px;width:310px;font-size:18px;line-height:25px"><p class="e t">یک نقطه امید در همشهری</p></div>
<div class="b" style="left:80px;top:1206.5px;width:310px;font-size:18px;line-height:25.2px">
<p>تیم تحقیقاتی ما تاکنون درباره شکوه معماری و</p>
<p>به‌خصوص درباره کاشی‌کاری، حجاری، آجرکاری و</p>
<p>گچ‌کاری بناهای تاریخی تهران پژوهش‌های فراوانی کرده</p>
<p>اما معتقدیم هنوز موضوعات ناشناخته بسیاری مانده که</p>
<p>از نگاه پژوهشگران حوزه تهران‌شناسی مغفول مانده</p>
<p>و باید به آنها پرداخته شود. در چنین زمانی، راه‌اندازی</p>
<p>مرکز تهران‌پژوهی همشهری یک نقطه امید برای همه</p>
<p>پژوهشگرانی است که در حوزه تهران‌شناسی فعالیت</p>
<p>می‌کنند و با مستندنگاری بناها، مکان‌ها و هویت تاریخی</p>
<p>پایتخت می‌خواهند منابع مکتوب قابل اعتماد برای</p>
<p>نسل‌های آینده به یادگار بگذارند. در دهه‌های گذشته</p>
<p>انجمن‌های زیادی برای جست‌وجو درباره هویت تهران</p>
<p>شکل گرفت و حتی تعدادی مجله با همین رویکرد منتشر</p>
<p>شد اما همه آنها یکی پس از دیگری محو شدند و خبری</p>
<p>از آنها نیست. مرکز تهران‌پژوهی همشهری برای ماندن</p>
<p>در این عرصه باید بیش از گذشته تبلیغ شود و در روزنامه</p>
<p>همشهری باید جایگاه تبلیغاتی قابل‌اعتنایی برای آن</p>
<p>درنظر بگیرند، چرا که دوام و قوام این مجموعه به کشف</p>
<p class="e">هویت ناشناخته تهران کمک می‌کنند.</p>
</div>

<div class="a" style="left:62px;top:1750px;width:347px;height:1230px;background:#ededee;border-top-right-radius:30px 80px"></div>
<div class="fx" style="left:81px;top:1765px;width:262px;font-size:26px;line-height:30px;font-weight:bold">در اهمیت ری؛ مادر تهران</div>
<svg class="a" style="left:79px;top:1821px" width="99" height="98" viewBox="0 0 100 100" preserveAspectRatio="none"><rect width="100" height="100" fill="#f4f4f4" stroke="#888" stroke-width="2"/><path d="M5 100 Q12 78 50 74 Q88 78 95 100Z" fill="#b8b0a8"/><ellipse cx="52" cy="48" rx="25" ry="32" fill="#b98870"/><path d="M26 40 Q26 8 52 8 Q80 8 80 40 Q74 20 52 20 Q32 20 26 40Z" fill="#2a2a2a"/><rect x="32" y="42" width="40" height="7" fill="none" stroke="#333" stroke-width="2"/></svg>
<div class="b" style="left:190px;top:1817.4px;width:200px;font-size:18px;line-height:25.2px">
<p><b>احمد ابوحمزه، تهران‌پژوه؛</b></p>
<p>تهران فقط خودش نیست.</p>
<p>تهران به مادر خودش، ری،</p>
<p>وصل است. وقتی صحبت از</p>
<p>تهران می‌شود باید از ری که از</p>
</div>
<div class="b" style="left:80px;top:1944.4px;width:310px;font-size:18px;line-height:25.2px">
<p>حدود ۸۰۰۰ سال قبل جایگاه رفت‌وآمد مردم جهان</p>
<p>از شرق به غرب و از شمال به جنوب بود نیز یاد شود.</p>
<p class="e">همه راه‌ها به نوعی به ری ختم می‌شد.</p>
</div>
<div class="b" style="left:80px;top:2047.4px;width:310px;font-size:18px;line-height:25.2px"><p class="e g">یک شهر باستانی</p></div>
<div class="b" style="left:80px;top:2071.4px;width:310px;font-size:18px;line-height:25.2px">
<p>تهران بزرگ جا پای ری گذاشت. ری هم از نظر</p>
<p>تاریخی و هم آب و هوایی و همچنین زمین‌های</p>
<p>فراوان کشاورزی، قبل و بعد از اسلام، منطقه مهمی</p>
<p>محسوب می‌شد. شناخت تهران بدون درنظر گرفتن</p>
<p>ری کامل نیست. اگر بخواهیم به پیشینه تهران و</p>
<p>جایگاه تاریخی آن بپردازیم باید به گذشته ری و</p>
<p>شمیران اشاره کنیم. گذشته است که باعث هویت</p>
<p>تهران می‌شود و تأثیر ری را در این میان نمی‌شود</p>
<p>نادیده گرفت. ری یک شهر باستانی است که با تاریخ</p>
<p>زاده شده و در هر کتاب تاریخی نامی از آن برده شده</p>
<p>است. به قول دکتر کریمان «ری، مادر تهران است»،</p>
<p class="e">اما متأسفانه به آن نگاهی نمی‌شود.</p>
</div>
<div class="b" style="left:80px;top:2399.4px;width:310px;font-size:18px;line-height:25.2px"><p class="e g">خانه‌های اربابی</p></div>
<div class="b" style="left:80px;top:2424.4px;width:310px;font-size:18px;line-height:25.2px">
<p>ری موجب انقلاب مشروطه شد و مهاجرت صغری به</p>
<p>این شهر در خانه‌های اربابی انجام شد. شیخ‌فضل‌الله</p>
<p>نوری و آیت‌الله طباطبایی مدتی در همین خانه‌ها</p>
<p class="e">ساکن بودند و توسط مردم آنجا پذیرایی می‌شدند.</p>
</div>
<div class="b" style="left:80px;top:2551.4px;width:310px;font-size:18px;line-height:25.2px"><p class="e g">ثبت بیش از ۱۴۰ اثر باستانی</p></div>
<div class="b" style="left:80px;top:2576.4px;width:310px;font-size:18px;line-height:25.2px">
<p>آثار بسیاری زیرمجموعه شهری است. اگر</p>
<p>بخواهیم ری را به‌عنوان منطقه ۲۰ ببینیم، شاید</p>
<p>بیش از ۱۴۰ اثر ثبتی و بیش از هزاران اثر غیرثبتی</p>
<p>در آن وجود دارد. هیچ شهری در ایران نیست که</p>
<p>این همه آثار و جاهای دیدنی، حتی مواردی که</p>
<p>هنوز زیر خاک هستند، داشته باشد. بنابراین اگر</p>
<p>بناهای تاریخی و سنت‌ها و اتفاقات گذشته در شهر</p>
<p>تهران را نادیده بگیریم، برای نسل بعدی چیزی از</p>
<p>هویت این شهر باقی نخواهد ماند. در این شرایط اما</p>
<p>مرکز تهران‌پژوهی مؤسسه همشهری کار نویی</p>
<p>را آغاز کرده است که کمک زیادی به بازشناسی</p>
<p>هویت تهران می‌کند. امیدوارم با کمک پژوهشگران</p>
<p>آنچه روایت می‌کنند قابل استناد باشد و به‌عنوان</p>
<p>منبعی قابل اعتماد از آن استفاده‌های گوناگونی</p>
<p class="e">صورت گیرد.</p>
</div>

<!-- RIGHT COLUMN -->
<div class="a" style="left:1762px;top:420px;width:346px;height:1290px;background:#efeff0;border-top-left-radius:30px 70px"></div>
<div class="fx" style="left:1794px;top:450px;width:298px;font-size:26px;line-height:30px;font-weight:bold">جست‌وجوی هویت گمشده شهر</div>
<svg class="a" style="left:1992px;top:499px" width="100" height="99" viewBox="0 0 100 100" preserveAspectRatio="none"><rect width="100" height="100" fill="#f6f6f6" stroke="#888" stroke-width="2"/><path d="M0 100 Q10 66 50 64 Q90 66 100 100Z" fill="#2f2f35"/><path d="M60 66 Q80 70 90 90 L70 100Z" fill="#7a2a30"/><ellipse cx="48" cy="44" rx="25" ry="30" fill="#c79478"/><path d="M22 40 Q20 10 48 8 Q76 10 74 40 Q68 18 48 18 Q28 18 22 40Z" fill="#e8e8e8"/><path d="M34 56 Q48 62 62 56" stroke="#ddd" stroke-width="4" fill="none"/></svg>
<div class="b" style="left:1783px;top:493.4px;width:191px;font-size:18px;line-height:25.3px;color:#2a2a2a">
<p><b>اقبال قاسمی پویا، مدرس</b></p>
<p><b>دانشگاه و پژوهشگر:</b> تحقیق و</p>
<p>پژوهش درباره هویت همه شهرهای</p>
<p>ایران ضرورت دارد ولی برای تهران،</p>
<p>به‌دلیل پایتخت بودن، اهمیت</p>
</div>
<div class="b" style="left:1783px;top:623.4px;width:309px;font-size:18px;line-height:25.3px;color:#2a2a2a">
<p>ویژه‌ای قائل هستیم. پژوهش درباره هویت تهران، یعنی</p>
<p>شناخت گذشته شهر که باعث می‌شود دستاوردها، اثرها</p>
<p>و عواقب رشد مناسب یا نامتناسب آن مورد نقد و توجه</p>
<p class="e">قرار بگیرد.</p>
</div>
<div class="b" style="left:1783px;top:748.4px;width:309px;font-size:18px;line-height:25.3px"><p class="e g">پژوهش برای آینده‌ای بهتر</p></div>
<div class="b" style="left:1783px;top:774.4px;width:309px;font-size:18px;line-height:25.5px;color:#2a2a2a">
<p>اهمیت تحقیق درباره تهران و شناختن این شهر غیرقابل</p>
<p>کتمان است. منظور از تحقیق، درک حاصل از آن است</p>
<p>برای دنیای امروز. ضمن اینکه تاریخ شهر را حفظ می‌کنیم</p>
<p>باید از این پژوهش‌ها برای ساخت و آینده بهتر تهران درس</p>
<p>بگیریم؛ نوعی نگاه تحلیلی از آنچه بود به سمت آنچه باید</p>
<p>باشد. در این صورت است که گفتن درباره هویت، تاریخ و</p>
<p class="e">فرهنگ مهم و ارزشمند خواهد بود.</p>
</div>
<div class="b" style="left:1783px;top:974.4px;width:309px;font-size:18px;line-height:25.3px"><p class="e g">چالش با دیگر شهرها</p></div>
<div class="b" style="left:1783px;top:1001.4px;width:309px;font-size:18px;line-height:25.37px;color:#2a2a2a">
<p>نکته‌ای که در بازگویی هویت تهران دور مانده، این است</p>
<p>که تهران با وجود قدمت و اهمیتش یک اثر نامناسب هم</p>
<p>در ایران گذاشت که دلیل آن خود تهران و جمعیت آن</p>
<p>نبود، بلکه حکومتگران و صاحب‌منصبان آن بودند. دلیل</p>
<p>رشد انفجاری جمعیت و تراکم در شهر تهران حاصل</p>
<p>بی‌توجهی به دیگر شهرهای ایران است. تهرانی که در دوره</p>
<p>ناصری ۱۵۰ هزار نفر جمعیت داشت در دهه چهل به جایی</p>
<p>رسید که از غرب تا میدان تازه‌ساخت آزادی و از شرق بعد</p>
<p>از پیچ‌شمیران خارج از شهر محسوب می‌شد. دورتادور</p>
<p>یوسف‌آباد که محل سکونت ما بود تپه و دره بود. تمام</p>
<p>امکانات شهری و دانشگاه‌ها در تهران با شروع برنامه توسعه</p>
<p>در زمان پهلوی اول اجرا و از همانجا چالش پایتخت با دیگر</p>
<p>شهرها آغاز شد و آنچنان پیش رفت که می‌توان گفت</p>
<p>تهران اکنون یک ابرشهر شده که دیگر هویت خودش را</p>
<p>گم کرده است. ما به‌عنوان تهران‌پژوه با چراغی در دست در</p>
<p>کوچه‌پس‌کوچه‌ها و محله‌ها و مدرسه‌های شهر می‌گردیم</p>
<p>و اتفاقات آن را جست‌وجو می‌کنیم، برای اینکه درسی از این</p>
<p>پژوهش‌ها بگیریم. مهم‌ترین درس تهران‌پژوهی می‌تواند</p>
<p>برای متولیان شهر این باشد که تهران دیگر ظرفیت ندارد و</p>
<p class="e">به شهر اجازه ندهیم بیش از این گسترش یابد.</p>
</div>
<div class="b" style="left:1783px;top:1532.4px;width:309px;font-size:18px;line-height:25.3px"><p class="e g">همشهری، محل رجوع</p></div>
<div class="b" style="left:1783px;top:1558.4px;width:309px;font-size:18px;line-height:24.6px;color:#2a2a2a">
<p>در این مسیر بی‌تردید مرکز تهران‌پژوهی مؤسسه همشهری</p>
<p>می‌تواند محل رجوع باشد و از یافته‌های تیم خود بهره ببرد.</p>
<p>آن طور که شنیده‌ام گروه تهران‌پژوهی مؤسسه همشهری</p>
<p>اطلاعات مفید و کارشناسانه‌ای درباره هویت شهر ارائه</p>
<p class="e">می‌کنند.</p>
</div>

<div class="a" style="left:1762px;top:1750px;width:347px;height:1230px;background:#fcb116;border-top-left-radius:40px 90px"></div>
<svg class="a" style="left:1993px;top:1776px" width="99" height="97" viewBox="0 0 100 100" preserveAspectRatio="none"><rect width="100" height="100" fill="#f1f1f1" stroke="#777" stroke-width="2"/><path d="M0 100 Q10 72 50 70 Q90 72 100 100Z" fill="#2b2622"/><ellipse cx="50" cy="46" rx="24" ry="31" fill="#b98a72"/><path d="M26 36 Q28 8 50 8 Q74 8 76 36 Q68 18 50 18 Q32 18 26 36Z" fill="#231f1c"/><path d="M38 62 Q50 72 62 62" fill="#4a3a30"/></svg>
<div class="b nj" style="left:1800px;top:1767.5px;width:174px;font-size:31px;line-height:37px;font-weight:bold">
<p>ضرورت نگاه</p><p>فرهنگی به</p><p>تاریخ تهران</p>
</div>
<div class="b" style="left:1783px;top:1898px;width:309px;font-size:18px;line-height:25.7px">
<p><b>حمید ناصری، تهران‌پژوه:</b> کشورهای توسعه‌یافته</p>
<p>و پیشرفته در گذر زمان به تأثیرگذاری کلانشهرهای</p>
<p>خود در فرهنگ، سیاست و هویت کشورشان پی</p>
<p>بردند و تصمیم گرفتند برای انتقال اهمیت این</p>
<p>شهرها به آیندگان روزی را به نام شهرهای تأثیرگذار</p>
<p>از نظر فرهنگی، گردشگری و سیاسی نامگذاری</p>
<p>کنند. ایران نیز با الگوبرداری از این کشورها از این</p>
<p>شیوه استفاده و با تصویب نمایندگان چهارمین دوره</p>
<p>شورای شهر تهران روزی به نام روز تهران را با تأیید</p>
<p class="e">وزارت کشور به تقویم اضافه کرد.</p>
</div>
<div class="b" style="left:1783px;top:2181px;width:309px;font-size:18px;line-height:25.5px"><p class="e t">پیشینه تاریخی</p></div>
<div class="b" style="left:1783px;top:2206px;width:309px;font-size:18px;line-height:25.3px">
<p>تهران حدود ۲۳۹ سال پیش به‌عنوان پایتخت</p>
<p>کشور انتخاب شد. از آن زمان تا امروز شهر ما نقش</p>
<p>بسیار کلیدی و مهمی در حوادث دوره معاصر ایفا</p>
<p>کرده است. نامگذاری روز تهران به این دلیل انجام</p>
<p>شد که این شهر نیز مانند شهرهای پیشرفته و</p>
<p>دارای پیشینه تاریخی بتواند در صنعت‌های مختلف</p>
<p class="e">ازجمله گردشگری حرفی برای گفتن داشته باشد.</p>
</div>
<div class="b" style="left:1783px;top:2404px;width:309px;font-size:18px;line-height:25.5px"><p class="e t">حفظ هویت تاریخی</p></div>
<div class="b" style="left:1783px;top:2431px;width:309px;font-size:18px;line-height:25.5px">
<p>تهران باید هویت تاریخی و فرهنگی خودش را</p>
<p>حفظ کند، بنابراین نمی‌توان با نگاهی کاملا مدرن</p>
<p>به این شهر نگاه کرد. نباید در ساختن هر سازه‌ای</p>
<p>چه برج‌های مرتفع و چه تونل‌های زیرزمینی</p>
<p>آسیبی به بافت تاریخی شهر مانند قنات‌های آن</p>
<p>وارد شود. در واقع نباید هویت شهر قربانی مدرن</p>
<p>شدن شهر شود. بنابراین توجه به بافت تاریخی</p>
<p>هنگام نوسازی‌های شهری و کالبدی در کنار بازیابی</p>
<p class="e">هویت تاریخی از این منظر اهمیت ممتازی می‌یابد.</p>
</div>
<div class="b" style="left:1783px;top:2686px;width:309px;font-size:18px;line-height:25.5px"><p class="e t">نقش مؤثر مرکز تهران پژوهی</p></div>
<div class="b" style="left:1783px;top:2711px;width:309px;font-size:18px;line-height:25.4px">
<p>مرکز تهران‌پژوهی از زمانی که فعالیتش را آغاز کرده</p>
<p>نقش مؤثری در بازیابی هویت تاریخی تهران داشته</p>
<p>است. این مرکز با تلاش‌های بی‌وقفه خود توانست</p>
<p>توجه مدیران ارگان‌های مختلف را دوباره به هویت</p>
<p>پایتخت کشور جلب کند. با این اتفاق بود که برخی</p>
<p>مدیران نیز به برگزاری تورهای مختلف روی آوردند تا</p>
<p>آنها هم نقشی در این امر داشته باشند. باید تلاش کرد</p>
<p>تا به تاریخ تهران نگاه فرهنگی داشت و همانند مرکز</p>
<p>تهران‌پژوهی با هدف احیای آن کوشش کرد تا هویت</p>
<p class="e">این شهر به نسل آینده نیز منتقل شود.</p>
</div>

<script>
function fit(){
 var els=document.querySelectorAll('.b>p,.sd,.fx');
 for(var i=0;i<els.length;i++){
  var el=els[i],s=el.firstElementChild;
  if(!(s&&s.className==='w'&&el.childNodes.length===1)){
   s=document.createElement('span');s.className='w';
   while(el.firstChild)s.appendChild(el.firstChild);
   el.appendChild(s);
  }
  s.style.transform='';s.style.wordSpacing='';
  var W=el.clientWidth,w=s.getBoundingClientRect().width;
  if(!W||!w)continue;
  if(el.classList.contains('fx')||w>W){
   s.style.transform='scaleX('+(W/w).toFixed(4)+')';
  }else if(el.tagName==='P'&&!el.classList.contains('e')&&!el.parentNode.classList.contains('nj')){
   var n=(s.textContent.match(/ /g)||[]).length;
   if(n)s.style.wordSpacing=((W-w)/n).toFixed(2)+'px';
  }
 }
}
fit();
if(document.fonts&&document.fonts.ready){document.fonts.ready.then(fit);}
</script>
</body></html>
